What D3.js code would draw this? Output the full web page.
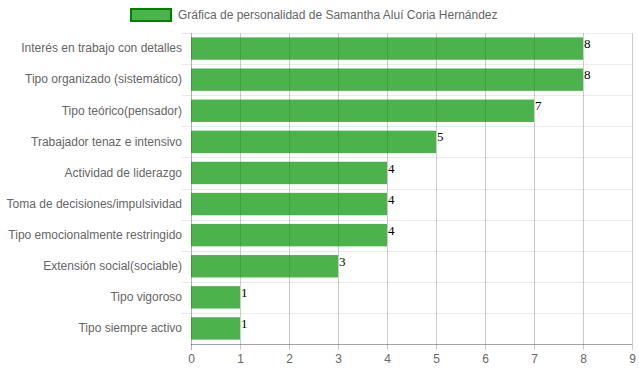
<!DOCTYPE html>
<html>
<head>
<meta charset="utf-8">
<script src="https://cdn.jsdelivr.net/npm/d3@7"></script>
<style>
  body { margin: 0; background: #fff; }
  .tick text { font-family: "Liberation Sans", Arial, sans-serif; font-size: 12px; fill: #666; }
  .value-label { font-family: "Liberation Serif", "Times New Roman", serif; font-size: 13px; fill: #000; }
</style>
</head>
<body>
<div id="chart-div"></div>
<script>
const categories = [
    "Interés en trabajo con detalles",
    "Tipo organizado (sistemático)",
    "Tipo teórico(pensador)",
    "Trabajador tenaz e intensivo",
    "Actividad de liderazgo",
    "Toma de decisiones/impulsividad",
    "Tipo emocionalmente restringido",
    "Extensión social(sociable)",
    "Tipo vigoroso",
    "Tipo siempre activo"
];
const values = [8, 8, 7, 5, 4, 4, 4, 3, 1, 1];
const xTicks = [0, 1, 2, 3, 4, 5, 6, 7, 8, 9];
const legendLabel = "Gráfica de personalidad de Samantha Aluí Coria Hernández";

const svgDims = { width: 639, height: 372 };
const margin = { top: 33, right: 7, bottom: 28, left: 191 };

const svg = d3.select("#chart-div")
    .append("svg")
    .attr("width", svgDims.width)
    .attr("height", svgDims.height);

const width = svgDims.width - margin.left - margin.right;
const height = svgDims.height - margin.top - margin.bottom;
const g = svg.append("g").attr("transform", "translate(" + margin.left + "," + margin.top + ")");

const xScale = d3.scaleLinear().domain([0, 9]).range([0, width]);
const yScale = d3.scaleBand().domain(categories).range([0, height]).paddingInner(0).paddingOuter(0);
const barH = yScale.bandwidth() * 0.72;

// Horizontal grid lines between categories
g.selectAll(".hgrid").data(d3.range(categories.length)).enter().append("line")
    .attr("x1", -10)
    .attr("x2", width)
    .attr("y1", i => Math.round(yScale.step() * i) + 0.5)
    .attr("y2", i => Math.round(yScale.step() * i) + 0.5)
    .attr("stroke", "rgba(0,0,0,0.08)");

// Vertical grid lines
g.selectAll(".vgrid").data(xTicks).enter().append("line")
    .attr("x1", d => Math.round(xScale(d)) + 0.5)
    .attr("x2", d => Math.round(xScale(d)) + 0.5)
    .attr("y1", 0)
    .attr("y2", height + 6)
    .attr("stroke", d => d === 0 ? "rgba(0,0,0,0.3)" : "rgba(0,0,0,0.2)");

// x axis line
g.append("line")
    .attr("x1", 0).attr("x2", width)
    .attr("y1", height + 0.5).attr("y2", height + 0.5)
    .attr("stroke", "rgba(0,0,0,0.35)");

// Bars
g.selectAll("rect.bar").data(values).enter().append("rect")
    .attr("class", "bar")
    .attr("x", 0)
    .attr("y", (d, i) => yScale(categories[i]) + (yScale.bandwidth() - barH) / 2)
    .attr("width", d => xScale(d))
    .attr("height", barH)
    .style("fill", "rgba(0,145,0,0.7)");

// Value labels
g.selectAll("text.value-label").data(values).enter().append("text")
    .attr("class", "value-label")
    .attr("x", d => xScale(d) + 1)
    .attr("y", (d, i) => yScale(categories[i]) + yScale.bandwidth() / 2 - 5)
    .attr("dy", "0.35em")
    .text(d => d);

// x axis tick labels
const xAxis = g.append("g")
    .attr("transform", "translate(0," + height + ")")
    .call(d3.axisBottom(xScale).tickValues(xTicks).tickSize(0).tickPadding(10));
xAxis.select(".domain").remove();

// y axis labels
const yAxis = g.append("g")
    .call(d3.axisLeft(yScale).tickSize(0).tickPadding(9));
yAxis.select(".domain").remove();

// Legend
const legend = svg.append("g").attr("transform", "translate(131,9)");
legend.append("rect")
    .attr("width", 40).attr("height", 12)
    .style("fill", "rgba(0,145,0,0.7)")
    .style("stroke", "#008000")
    .style("stroke-width", 2);
legend.append("text")
    .attr("x", 47).attr("y", 6).attr("dy", "0.35em")
    .style("font-family", "'Liberation Sans', Arial, sans-serif")
    .style("font-size", "12px")
    .style("fill", "#666")
    .text(legendLabel);
</script>
</body>
</html>
